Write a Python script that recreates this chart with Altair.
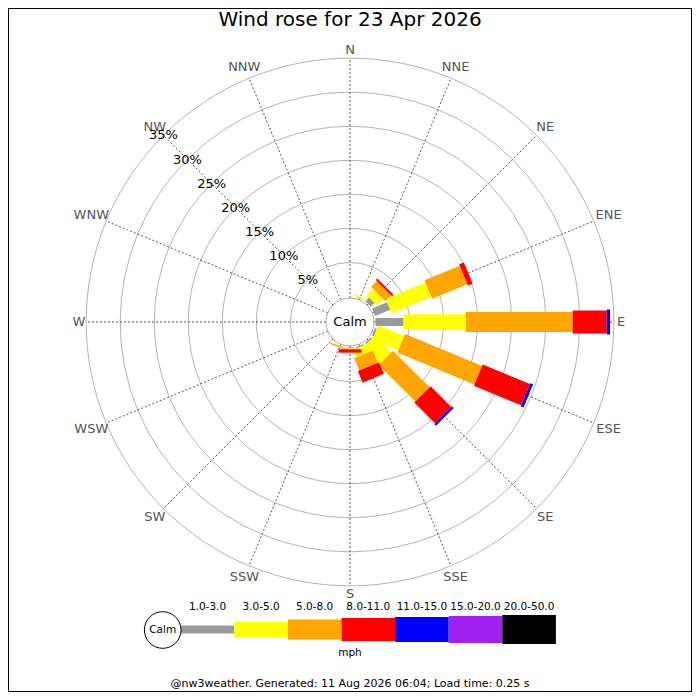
import altair as alt
import pandas as pd

# ---------------- data ----------------
TITLE = "Wind rose for 23 Apr 2026"
FOOTER = "@nw3weather. Generated: 11 Aug 2026 06:04; Load time: 0.25 s"
UNIT = "mph"
CALM = "Calm"

directions = ["N", "NNE", "NE", "ENE", "E", "ESE", "SE", "SSE",
              "S", "SSW", "SW", "WSW", "W", "WNW", "NW", "NNW"]
speed_classes = ["1.0-3.0", "3.0-5.0", "5.0-8.0", "8.0-11.0",
                 "11.0-15.0", "15.0-20.0", "20.0-50.0"]
class_colors = ["#999999", "#ffff00", "#ffa500", "#ff0000",
                "#0000ff", "#a020f0", "#000000"]

# % of time per direction (N .. NNW) for each speed class
pct_1_3 = [0, 0.05, 0.8, 2.4, 4.1, 0.3, 0.25, 0.2, 0.1, 0.05, 0, 0, 0, 0, 0, 0]
pct_3_5 = [0, 0.2, 1.3, 6.3, 9.15, 4.1, 3.45, 1.2, 0.08, 0.1, 0, 0, 0, 0, 0, 0]
pct_5_8 = [0, 0, 1.2, 5.6, 15.7, 12.25, 7.6, 1.95, 0.08, 0.2, 0, 0, 0, 0, 0, 0]
pct_8_11 = [0, 0, 0.3, 0.75, 5.0, 7.5, 4.3, 1.85, 0.5, 0, 0, 0, 0, 0, 0, 0]
pct_11_15 = [0, 0, 0, 0, 0.5, 0.45, 0.35, 0, 0, 0, 0, 0, 0, 0, 0, 0]
pct_15_20 = [0] * 16
pct_20_50 = [0] * 16
series = [pct_1_3, pct_3_5, pct_5_8, pct_8_11, pct_11_15, pct_15_20, pct_20_50]

ring_pcts = [5, 10, 15, 20, 25, 30, 35]

# ---------------- layout (styles) ----------------
R0 = 25.5        # radius of calm hole (px)
K = 6.81         # px per percent
CALM_R = 24
LABEL_R = 267
widths = [8, 15.5, 20, 23, 25, 27, 29]
WEXPR = "[" + ",".join(str(w) for w in widths) + "][datum.ci]"
LEG_X0, LEG_W, LEG_Y, LEG_LAB_Y = -169.3, 53.6, -307.5, -284.7
FONT = "DejaVu Sans"

XS = alt.Scale(domain=[-342, 342], nice=False, zero=False)
YS = alt.Scale(domain=[-370, 314], nice=False, zero=False)
CS = alt.Scale(domain=speed_classes, range=class_colors)

rows = []
for j, (c, s) in enumerate(zip(speed_classes, series)):
    for i, d in enumerate(directions):
        rows.append({"dir": d, "di": i, "cls": c, "ci": j, "v": s[i]})
df = pd.DataFrame(rows)

dir_df = pd.DataFrame({"dir": directions, "di": list(range(len(directions)))})
ring_df = pd.DataFrame({"p": ring_pcts, "lab": [f"{p}%" for p in ring_pcts]})
leg_df = pd.DataFrame({"cls": speed_classes, "ci": list(range(len(speed_classes)))})

X = lambda f: alt.X(f, scale=XS, axis=None)
Y = lambda f: alt.Y(f, scale=YS, axis=None)

rings = alt.Chart(ring_df).transform_calculate(
    r=f"{R0} + {K} * datum.p", s="pow(2 * datum.r, 2)", o="0"
).mark_point(shape="circle", filled=False, color="#b4b4b4", strokeWidth=1, opacity=1).encode(
    x=X("o:Q"), y=Y("o:Q"), size=alt.Size("s:Q", scale=None)
)

rmax = R0 + K * max(ring_pcts)
spokes = alt.Chart(dir_df).transform_calculate(
    ang="datum.di * PI / 8",
    xb=f"{rmax} * sin(datum.ang)", yb=f"{rmax} * cos(datum.ang)", o="0"
).mark_rule(color="#444444", strokeWidth=0.9, strokeDash=[2, 2]).encode(
    x=X("o:Q"), y=Y("o:Q"), x2="xb:Q", y2="yb:Q"
)

bars = alt.Chart(df).transform_filter("datum.v > 0").transform_window(
    cum="sum(v)", groupby=["dir"], sort=[alt.SortField("ci", order="ascending")], frame=[None, 0]
).transform_calculate(
    ang="datum.di * PI / 8",
    ra=f"{R0} + {K} * (datum.cum - datum.v)",
    rb=f"{R0} + {K} * datum.cum",
    xa="datum.ra * sin(datum.ang)", ya="datum.ra * cos(datum.ang)",
    xb="datum.rb * sin(datum.ang)", yb="datum.rb * cos(datum.ang)",
    w=WEXPR,
).mark_rule(strokeCap="butt").encode(
    x=X("xa:Q"), y=Y("ya:Q"), x2="xb:Q", y2="yb:Q",
    color=alt.Color("cls:N", scale=CS, legend=None),
    strokeWidth=alt.StrokeWidth("w:Q", scale=None),
)

dir_labels = alt.Chart(dir_df).transform_calculate(
    ang="datum.di * PI / 8",
    r=f"{LABEL_R} + 4 * length(datum.dir) * abs(sin(datum.ang)) + 5 * abs(cos(datum.ang))",
    x="datum.r * sin(datum.ang)", y="datum.r * cos(datum.ang)"
).mark_text(font=FONT, fontSize=13, color="#555555", align="center", baseline="middle").encode(
    x=X("x:Q"), y=Y("y:Q"), text="dir:N"
)

pct_labels = alt.Chart(ring_df).transform_calculate(
    r=f"{R0} + {K} * datum.p",
    x="datum.r * sin(7 * PI / 4)", y="datum.r * cos(7 * PI / 4)"
).mark_text(font=FONT, fontSize=13, color="#000000", align="center", baseline="middle").encode(
    x=X("x:Q"), y=Y("y:Q"), text="lab:N"
)

calm_df = pd.DataFrame({"t": [CALM]})
calm_disc = alt.Chart(calm_df).transform_calculate(o="0", s=f"pow(2 * {CALM_R}, 2)").mark_point(
    shape="circle", filled=True, fill="white", stroke="#aaaaaa", strokeWidth=1, opacity=1
).encode(x=X("o:Q"), y=Y("o:Q"), size=alt.Size("s:Q", scale=None))
calm_text = alt.Chart(calm_df).transform_calculate(o="0").mark_text(
    font=FONT, fontSize=13, color="black", align="center", baseline="middle"
).encode(x=X("o:Q"), y=Y("o:Q"), text="t:N")

title = alt.Chart(pd.DataFrame({"t": [TITLE]})).transform_calculate(x="0", y="302").mark_text(
    font=FONT, fontSize=20, color="black", align="center", baseline="middle"
).encode(x=X("x:Q"), y=Y("y:Q"), text="t:N")

leg_bars = alt.Chart(leg_df).transform_calculate(
    xa=f"{LEG_X0} + datum.ci * {LEG_W}", xb=f"{LEG_X0} + (datum.ci + 1) * {LEG_W}", y=f"{LEG_Y}",
    w=WEXPR,
).mark_rule(strokeCap="butt").encode(
    x=X("xa:Q"), y=Y("y:Q"), x2="xb:Q",
    color=alt.Color("cls:N", scale=CS, legend=None),
    strokeWidth=alt.StrokeWidth("w:Q", scale=None),
)
leg_labels = alt.Chart(leg_df).transform_calculate(
    x=f"{LEG_X0} + (datum.ci + 0.5) * {LEG_W}", y=f"{LEG_LAB_Y}"
).mark_text(font=FONT, fontSize=10.5, color="black", align="center", baseline="middle").encode(
    x=X("x:Q"), y=Y("y:Q"), text="cls:N"
)
leg_calm_disc = alt.Chart(calm_df).transform_calculate(x="-187.3", y="-308", s="pow(36.6, 2)").mark_point(
    shape="circle", filled=True, fill="white", stroke="black", strokeWidth=1, opacity=1
).encode(x=X("x:Q"), y=Y("y:Q"), size=alt.Size("s:Q", scale=None))
leg_calm_text = alt.Chart(calm_df).transform_calculate(x="-187.3", y="-308").mark_text(
    font=FONT, fontSize=10.5, color="black", align="center", baseline="middle"
).encode(x=X("x:Q"), y=Y("y:Q"), text="t:N")
unit_text = alt.Chart(pd.DataFrame({"t": [UNIT]})).transform_calculate(x="0", y="-331.3").mark_text(
    font=FONT, fontSize=10.5, color="black", align="center", baseline="middle"
).encode(x=X("x:Q"), y=Y("y:Q"), text="t:N")
footer = alt.Chart(pd.DataFrame({"t": [FOOTER]})).transform_calculate(x="0", y="-362").mark_text(
    font=FONT, fontSize=11, color="black", align="center", baseline="middle"
).encode(x=X("x:Q"), y=Y("y:Q"), text="t:N")

chart = alt.layer(
    rings, spokes, bars, dir_labels, pct_labels, calm_disc, calm_text, title,
    leg_bars, leg_labels, leg_calm_disc, leg_calm_text, unit_text, footer
).properties(
    width=684, height=684, padding=0, autosize="none", background="white"
).configure_view(stroke="black", strokeWidth=2)

chart.save("out.html", embed_options={"renderer": "svg", "actions": False})
